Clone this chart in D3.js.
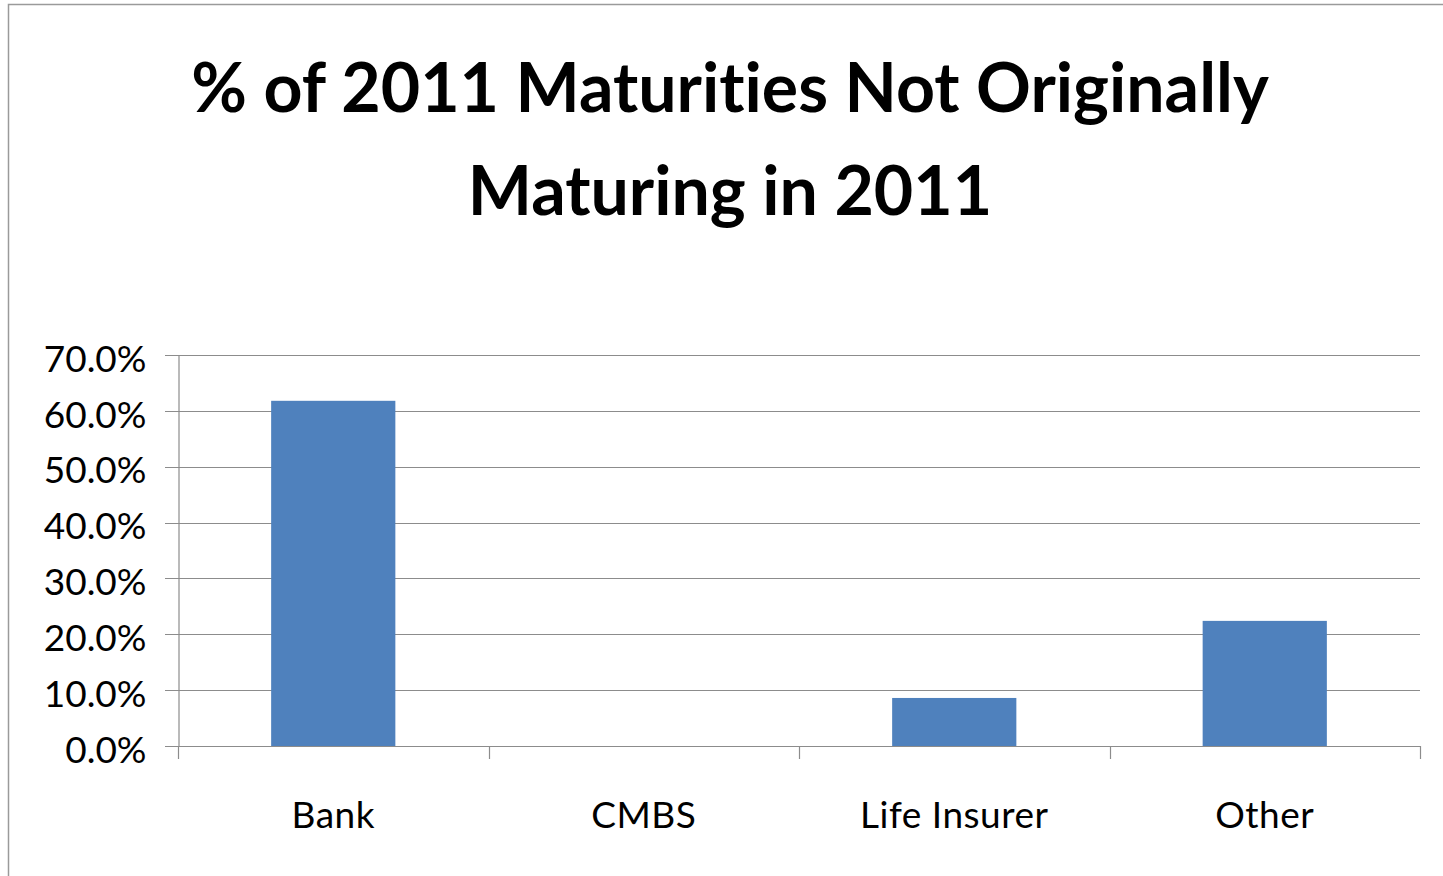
<!DOCTYPE html>
<html>
<head>
<meta charset="utf-8">
<script src="https://cdn.jsdelivr.net/npm/d3@7"></script>
<style>
  html, body { margin: 0; padding: 0; background: #fff; }
  svg { display: block; }
  text { font-variant-ligatures: none; font-feature-settings: "liga" 0, "clig" 0; }
</style>
</head>
<body>
<svg id="chart" width="1443" height="876"></svg>
<script>
const titleLines = ["% of 2011 Maturities Not Originally", "Maturing in 2011"];
const categories = ["Bank", "CMBS", "Life Insurer", "Other"];
const values = [0.618, 0.0, 0.086, 0.224];
const yTicks = [0, 0.1, 0.2, 0.3, 0.4, 0.5, 0.6, 0.7];

const W = 1443, H = 876;
const margin = { left: 178, right: 23, top: 355, bottom: 130 };
const svg = d3.select("#chart");
const font = "Lato, 'Open Sans', sans-serif";

// chart border
svg.append("rect")
  .attr("x", 8.5).attr("y", 4.5)
  .attr("width", W).attr("height", H)
  .attr("fill", "none").attr("stroke", "#9a9a9a").attr("stroke-width", 1.5);

const x = d3.scaleBand()
  .domain(categories)
  .range([margin.left, W - margin.right])
  .paddingInner(0.6)
  .paddingOuter(0.3);

const y = d3.scaleLinear()
  .domain([0, 0.7])
  .range([746, 355]);

const gridColor = "#8c8c8c";

// gridlines
svg.append("g")
  .selectAll("line")
  .data(yTicks)
  .join("line")
  .attr("x1", margin.left - 13)
  .attr("x2", W - margin.right)
  .attr("y1", d => Math.round(y(d)) + 0.5)
  .attr("y2", d => Math.round(y(d)) + 0.5)
  .attr("stroke", gridColor)
  .attr("stroke-width", 1.2);

// y axis
const yAxis = d3.axisLeft(y)
  .tickValues(yTicks)
  .tickFormat(d3.format(".1%"))
  .tickSize(0)
  .tickPadding(32);
const gy = svg.append("g")
  .attr("transform", `translate(${margin.left + 0.5},0)`)
  .call(yAxis);
gy.select(".domain").attr("stroke", gridColor).attr("stroke-width", 1.2);
gy.selectAll("text")
  .attr("font-family", font)
  .attr("font-size", 37)
  .attr("fill", "#000")
  .attr("dy", "0.44em");

// bars
svg.append("g")
  .selectAll("rect")
  .data(categories.map((c, i) => ({ c, v: values[i] })))
  .join("rect")
  .attr("x", d => x(d.c))
  .attr("width", x.bandwidth())
  .attr("y", d => y(d.v))
  .attr("height", d => y(0) - y(d.v))
  .attr("fill", "#4F81BD");

// x axis
const xAxis = d3.axisBottom(x).tickSize(0).tickPadding(55);
const gx = svg.append("g")
  .attr("transform", `translate(0,${Math.round(y(0)) + 0.5})`)
  .call(xAxis);
gx.select(".domain").remove();
gx.selectAll("text")
  .attr("font-family", font)
  .attr("font-size", 37)
  .attr("letter-spacing", "0.5px")
  .attr("fill", "#000");

// category boundary ticks
const bounds = d3.range(categories.length + 1).map(i => margin.left + i * (W - margin.right - margin.left) / categories.length);
svg.append("g")
  .selectAll("line")
  .data(bounds)
  .join("line")
  .attr("x1", d => Math.round(d) + 0.5)
  .attr("x2", d => Math.round(d) + 0.5)
  .attr("y1", Math.round(y(0)))
  .attr("y2", Math.round(y(0)) + 13)
  .attr("stroke", gridColor)
  .attr("stroke-width", 1.2);

// title
const title = svg.append("text")
  .attr("text-anchor", "middle")
  .attr("font-family", font)
  .attr("font-weight", "bold")
  .attr("font-size", 68)
  .attr("fill", "#000");
title.selectAll("tspan")
  .data(titleLines)
  .join("tspan")
  .attr("x", 730)
  .attr("y", (d, i) => 112 + i * 103)
  .text(d => d);
</script>
</body>
</html>
